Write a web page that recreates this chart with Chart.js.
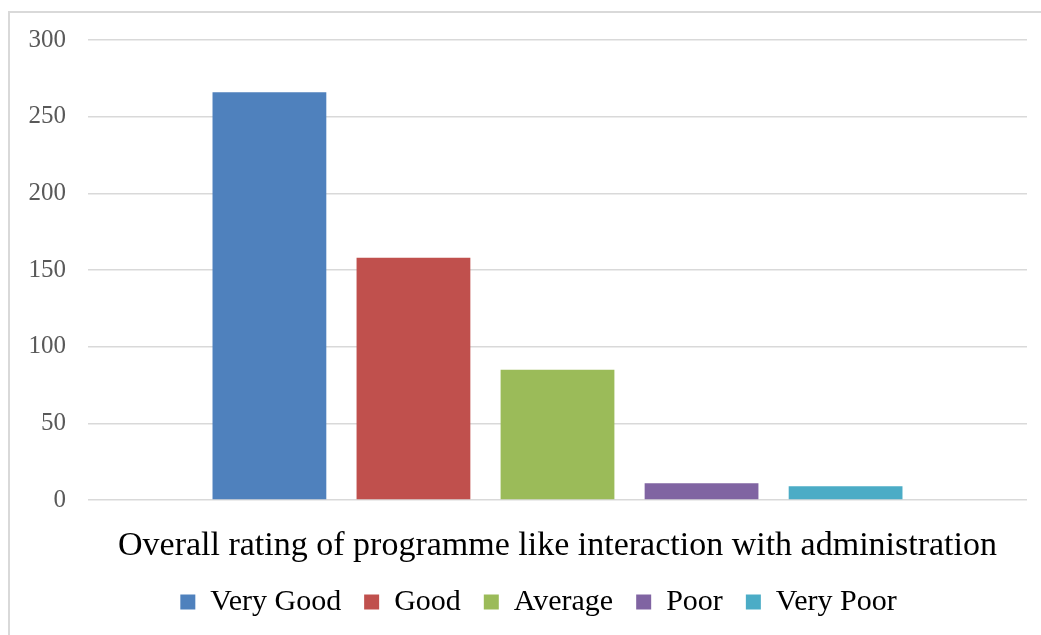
<!DOCTYPE html>
<html>
<head>
<meta charset="utf-8">
<script src="https://cdn.jsdelivr.net/npm/chart.js@4/dist/chart.umd.min.js"></script>
<style>
    html, body { margin: 0; padding: 0; background: #fff; overflow: hidden; }
    #frame {
        position: absolute; left: 8px; top: 11px;
        width: 1100px; height: 700px;
        border-left: 2px solid #d9d9d9;
        border-top: 2px solid #d9d9d9;
    }
    #wrap { position: absolute; left: 0; top: 0; width: 1041px; height: 635px; }
</style>
</head>
<body>
<div id="frame"></div>
<div id="wrap"><canvas id="ratingChart" width="1041" height="635"></canvas></div>
<script>
const categories = ['Overall rating of programme like interaction with administration'];
const seriesNames = ['Very Good', 'Good', 'Average', 'Poor', 'Very Poor'];
const seriesValues = [266, 158, 85, 11, 9];
const seriesColors = ['#4f81bd', '#c0504d', '#9bbb59', '#8064a2', '#4bacc6'];
const yTicks = [0, 50, 100, 150, 200, 250, 300];

const fontFamily = '"Liberation Serif", "DejaVu Serif", serif';

// place the legend row under the plot area once the layout is known
const legendShift = {
    id: 'legendShift',
    afterLayout(chart) {
        const legend = chart.legend;
        const dx = 25;
        legend.left += dx;
        legend.right += dx;
        legend.top = 564;
        legend.bottom = chart.height;
        legend.height = legend.bottom - legend.top;
    }
};

document.addEventListener('DOMContentLoaded', function() {
    const ctx = document.getElementById('ratingChart').getContext('2d');

    const datasets = seriesNames.map((name, i) => ({
        label: name,
        data: [seriesValues[i]],
        backgroundColor: seriesColors[i],
        borderWidth: 0,
        categoryPercentage: 0.767,
        barPercentage: 0.79
    }));

    new Chart(ctx, {
        type: 'bar',
        data: {
            labels: categories,
            datasets: datasets
        },
        plugins: [legendShift],
        options: {
            responsive: false,
            animation: false,
            layout: {
                padding: { top: 40, left: 0, right: 14, bottom: 0 }
            },
            plugins: {
                legend: {
                    position: 'bottom',
                    maxHeight: 60,
                    labels: {
                        boxWidth: 15,
                        boxHeight: 15,
                        padding: 23,
                        color: '#000',
                        font: { family: fontFamily, size: 30 }
                    }
                },
                tooltip: { enabled: false }
            },
            scales: {
                x: {
                    grid: { display: false, drawTicks: false },
                    border: { display: false },
                    ticks: {
                        color: '#000',
                        padding: 26,
                        font: { family: fontFamily, size: 34 }
                    },
                    afterFit: function(scale) {
                        scale.height = 75;
                    }
                },
                y: {
                    min: 0,
                    max: 300,
                    afterBuildTicks: function(scale) {
                        scale.ticks = yTicks.map(v => ({ value: v }));
                    },
                    grid: { color: '#d9d9d9', lineWidth: 1.5, drawTicks: false },
                    border: { display: false },
                    ticks: {
                        color: '#595959',
                        padding: 22,
                        font: { family: fontFamily, size: 25 }
                    },
                    afterFit: function(scale) {
                        scale.width = 88;
                    }
                }
            }
        }
    });
});
</script>
</body>
</html>
